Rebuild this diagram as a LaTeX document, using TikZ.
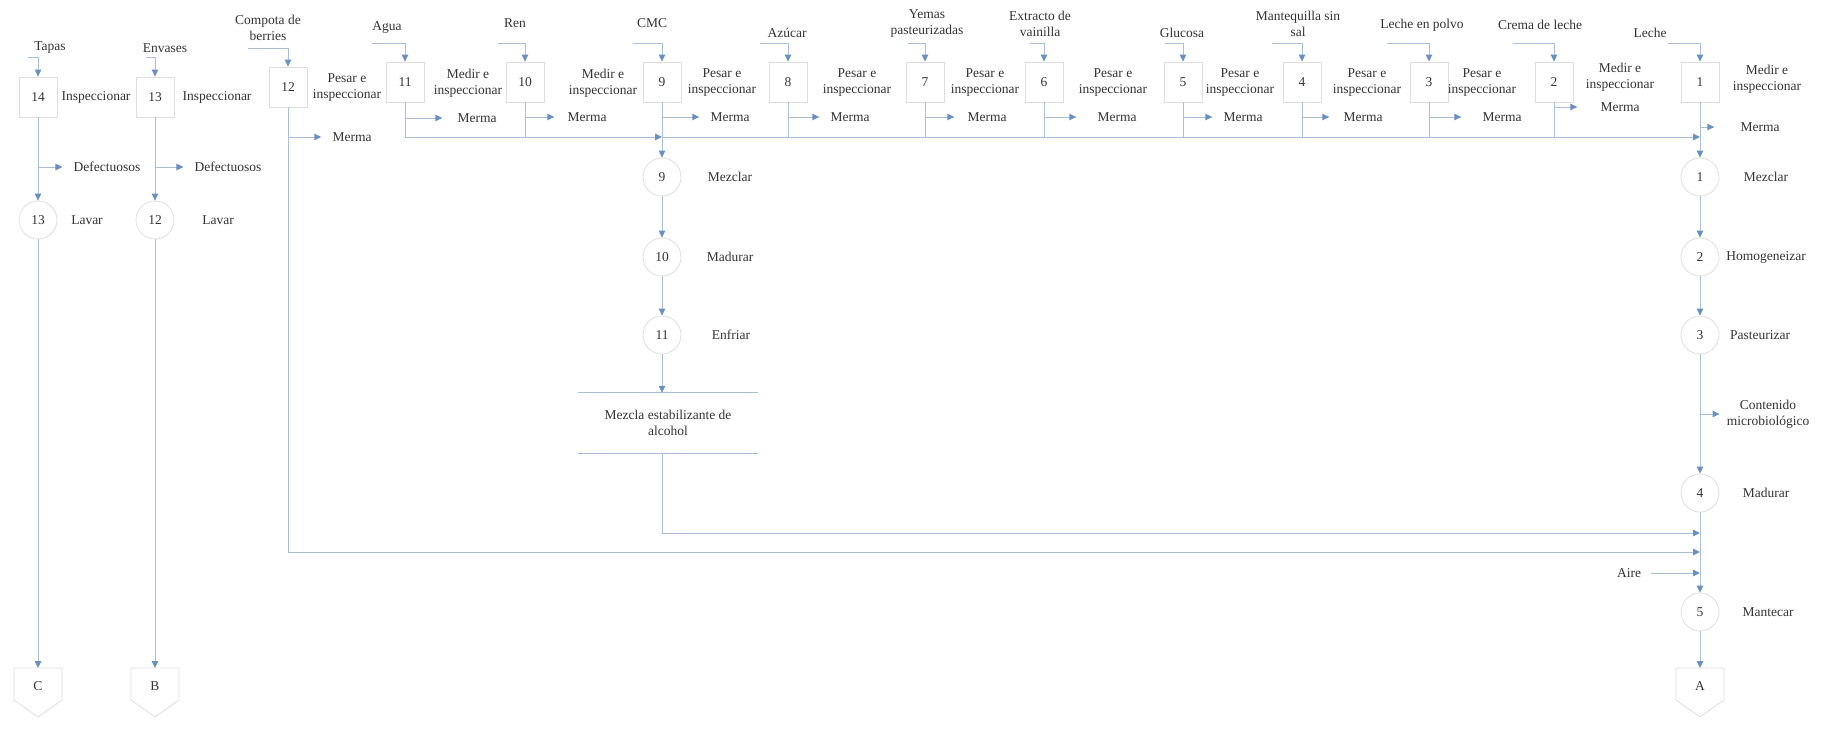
\documentclass[tikz,border=0pt]{standalone}
\usepackage{fontspec}
\setmainfont{Liberation Serif}
\usetikzlibrary{arrows.meta}
\definecolor{linec}{HTML}{A9BFDA}
\definecolor{tipc}{HTML}{6A90C2}
\definecolor{edgec}{HTML}{DEDEDE}
\definecolor{txtc}{HTML}{333333}

\begin{document}
\begin{tikzpicture}[x=1pt,y=-1pt,
  font=\fontsize{13.5}{16}\selectfont, text=txtc,
  opbox/.style={draw=edgec, line width=0.8pt, minimum width=38pt, minimum height=40pt, inner sep=0pt},
  opcirc/.style={circle, draw=edgec, line width=0.8pt, minimum size=38pt, inner sep=0pt},
  lbl/.style={align=center, inner sep=1pt},
  wire/.style={draw=linec, line width=1pt},
  flow/.style={wire, -{Triangle[width=6.5pt,length=7pt,color=tipc]}},
  offpage/.style={draw=edgec, line width=0.8pt}
]
\useasboundingbox (0,0) rectangle (1830,728);

% ---------- bus coordinates ----------
\coordinate (j9) at (662,137);
\coordinate (j1) at (1700,137);
\coordinate (j4a) at (1700,533);
\coordinate (j4b) at (1700,552);
\coordinate (j5) at (1700,573);

% ---------- uniform ingredient inspections ----------
\foreach \n/\x/\act/\lx/\intext/\tx/\ty/\sx/\mx/\gap in {
  10/525/Medir/603/Ren/515/23/498/587/12,
  9/662/Pesar/722/CMC/652/23/633/730/10,
  8/788/Pesar/857/Azúcar/787/33/760/850/10,
  7/925/Pesar/985/{Yemas\\pasteurizadas}/927/24/908/987/12,
  6/1044/Pesar/1113/{Extracto de\\vainilla}/1040/24/1030/1117/20,
  5/1183/Pesar/1240/Glucosa/1182/33/1165/1243/10,
  4/1302/Pesar/1367/{Mantequilla sin\\sal}/1298/24/1272/1363/13,
  3/1429/Pesar/1482/{Leche en polvo}/1422/25/1387/1502/20}{
  \node[opbox] (b\n) at (\x,82) {\n};
  \node[lbl] (a\n) at (\lx,83) {\act{} e\\inspeccionar};
  \node[lbl] (in\n) at (\tx,\ty) {\intext};
  \coordinate (s\n) at (\sx,43);
  \draw[flow] (s\n) -| (b\n.north);
  \node[lbl] (m\n) at (\mx,117) {Merma};
  \draw[flow, shorten >=\gap pt] (b\n.south |- m\n) -- (m\n.west);
  \draw[wire] (b\n.south) -- (b\n.south |- j9);
}

% ---------- box 2 ----------
\node[opbox] (b2) at (1554,82) {2};
\node[lbl] (a2) at (1620,77) {Medir e\\inspeccionar};
\node[lbl] (in2) at (1540,25) {Crema de leche};
\coordinate (s2) at (1513,43);
\draw[flow] (s2) -| (b2.north);
\node[lbl] (m2) at (1620,107) {Merma};
\draw[flow, shorten >=22pt] (b2.south |- m2) -- (m2.west);
\draw[wire] (b2.south) -- (b2.south |- j9);

% ---------- box 1 ----------
\node[opbox] (b1) at (1700,82) {1};
\node[lbl] (a1) at (1767,79) {Medir e\\inspeccionar};
\node[lbl] (in1) at (1650,33) {Leche};
\coordinate (s1) at (1668,43);
\draw[flow] (s1) -| (b1.north);
\node[lbl] (m1) at (1760,127) {Merma};
\draw[flow, shorten >=25pt] (b1.south |- m1) -- (m1.west);

% ---------- box 11 ----------
\node[opbox] (b11) at (405,82) {11};
\node[lbl] (a11) at (468,83) {Medir e\\inspeccionar};
\node[lbl] (in11) at (387,28) {Agua};
\coordinate (s11) at (372,43);
\draw[flow] (s11) -| (b11.north);
\node[lbl] (m11) at (477,118) {Merma};
\draw[flow, shorten >=14pt] (b11.south |- m11) -- (m11.west);

% ---------- box 12 ----------
\node[opbox] (b12) at (288,87) {12};
\node[lbl] (a12) at (347,88) {Pesar e\\inspeccionar};
\node[lbl] (in12) at (268,28) {Compota de\\berries};
\coordinate (s12) at (248,48);
\draw[flow] (s12) -| (b12.north);
\node[lbl] (m12) at (352,137) {Merma};
\draw[flow, shorten >=10pt] (b12.south |- m12) -- (m12.west);

% ---------- collecting bus ----------
\draw[flow] (b11.south) |- (j9);
\draw[flow] (j9) -- (j1);

% ---------- stabiliser branch ----------
\node[opcirc] (c9) at (662,177) {9};
\node[lbl] (t9) at (730,177) {Mezclar};
\node[opcirc] (c10) at (662,257) {10};
\node[lbl] (t10) at (730,257) {Madurar};
\node[opcirc] (c11) at (662,335) {11};
\node[lbl] (t11) at (731,335) {Enfriar};
\node[lbl, minimum width=180pt, minimum height=60pt] (store) at (668,423) {Mezcla estabilizante de\\alcohol};
\draw[wire] (store.north west) -- (store.north east);
\draw[wire] (store.south west) -- (store.south east);
\draw[flow] (b9.south) -- (c9.north);
\draw[flow] (c9) -- (c10);
\draw[flow] (c10) -- (c11);
\draw[flow] (c11.south) -- (c11.south |- store.north);
\draw[flow] (c11.south |- store.south) |- (j4a);
\draw[flow] (b12.south) |- (j4b);

% ---------- main line ----------
\node[opcirc] (c1) at (1700,177) {1};
\node[lbl] (t1) at (1766,177) {Mezclar};
\node[opcirc] (c2) at (1700,257) {2};
\node[lbl] (t2) at (1766,257) {Homogeneizar};
\node[opcirc] (c3) at (1700,335) {3};
\node[lbl] (t3) at (1760,335) {Pasteurizar};
\node[lbl] (cm) at (1768,414) {Contenido\\microbiológico};
\node[opcirc] (c4) at (1700,493) {4};
\node[lbl] (t4) at (1766,493) {Madurar};
\node[opcirc] (c5) at (1700,612) {5};
\node[lbl] (t5) at (1768,612) {Mantecar};
\node[lbl] (aire) at (1629,573) {Aire};
\node (offA) at (1700,686) {A};
\draw[offpage] (offA.center) ++(-24,-18) -- ++(48,0) -- ++(0,32) -- ++(-24,17) -- ++(-24,-17) -- cycle;
\coordinate (offAtop) at (1700,668);

\draw[flow] (b1.south) -- (c1.north);
\draw[flow] (c1) -- (c2);
\draw[flow] (c2) -- (c3);
\draw[flow] (c3) -- (c4);
\draw[flow, shorten >=6pt] (c3.south |- cm) -- (cm.west);
\draw[flow] (c4) -- (c5);
\draw[flow, shorten <=9pt] (aire.east) -- (j5);
\draw[flow] (c5) -- (offAtop);

% ---------- lids and containers ----------
\node[opbox] (b14) at (38,97) {14};
\node[lbl] (a14) at (96,97) {Inspeccionar};
\node[lbl] (in14) at (50,48) {Tapas};
\coordinate (s14) at (28,57);
\draw[flow] (s14) -| (b14.north);
\node[lbl] (d14) at (107,167) {Defectuosos};
\draw[flow, shorten >=10pt] (b14.south |- d14) -- (d14.west);
\node[opcirc] (cL13) at (38,220) {13};
\node[lbl] (l13) at (87,220) {Lavar};
\node (offC) at (38,686) {C};
\draw[offpage] (offC.center) ++(-24,-18) -- ++(48,0) -- ++(0,32) -- ++(-24,17) -- ++(-24,-17) -- cycle;
\coordinate (offCtop) at (38,668);
\draw[flow] (b14) -- (cL13);
\draw[flow] (cL13) -- (offCtop);

\node[opbox] (b13) at (155,97) {13};
\node[lbl] (a13) at (217,97) {Inspeccionar};
\node[lbl] (in13) at (165,48) {Envases};
\coordinate (s13) at (146,57);
\draw[flow] (s13) -| (b13.north);
\node[lbl] (d13) at (228,167) {Defectuosos};
\draw[flow, shorten >=10pt] (b13.south |- d13) -- (d13.west);
\node[opcirc] (cL12) at (155,220) {12};
\node[lbl] (l12) at (218,220) {Lavar};
\node (offB) at (155,686) {B};
\draw[offpage] (offB.center) ++(-24,-18) -- ++(48,0) -- ++(0,32) -- ++(-24,17) -- ++(-24,-17) -- cycle;
\coordinate (offBtop) at (155,668);
\draw[flow] (b13) -- (cL12);
\draw[flow] (cL12) -- (offBtop);

\end{tikzpicture}
\end{document}
